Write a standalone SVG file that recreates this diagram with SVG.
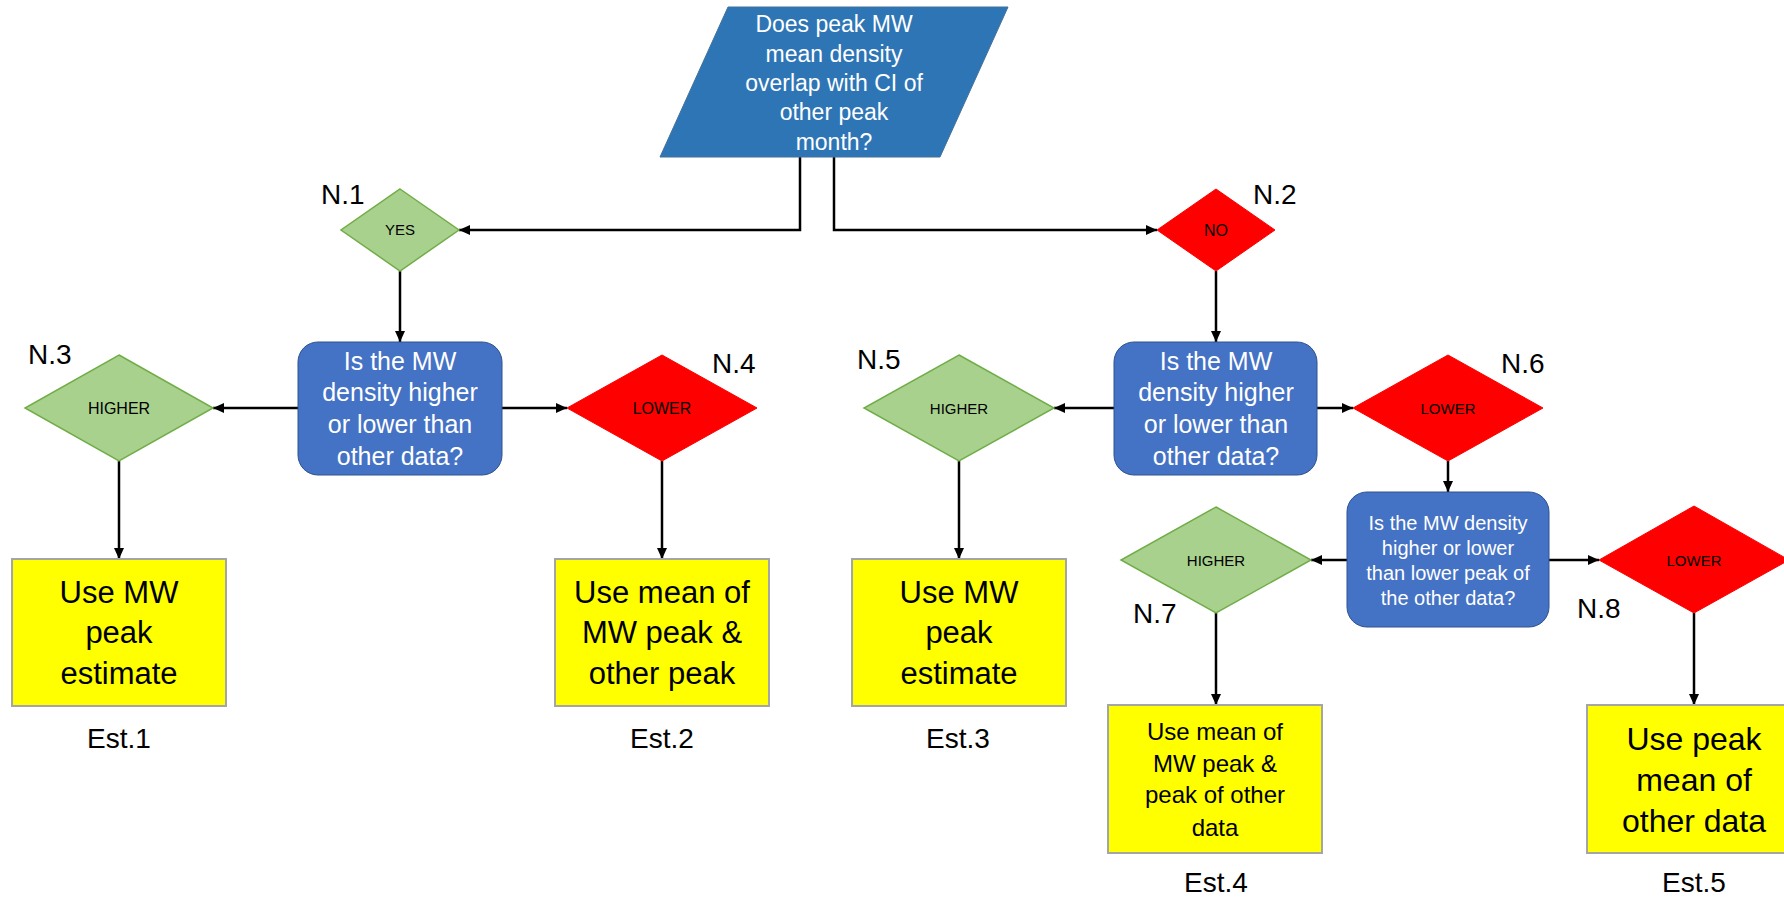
<svg xmlns="http://www.w3.org/2000/svg" width="1784" height="898" viewBox="0 0 1784 898">
<defs>
<style>
text{font-family:"Liberation Sans",Arial,sans-serif;text-anchor:middle}
.q{fill:#2E75B6;stroke:#41719C;stroke-width:1}
.box{fill:#4472C4;stroke:#2F528F;stroke-width:1}
.g{fill:#A9D18E;stroke:#70AD47;stroke-width:1.5}
.r{fill:#FF0000;stroke:#FF0000;stroke-width:1}
.y{fill:#FFFF00;stroke:#A5A5A5;stroke-width:2}
.wt{fill:#FFFFFF}
.dt{fill:#000000}
.lbl{fill:#000000;font-size:28px;text-anchor:start}
.est{fill:#000000;font-size:28px}
.c{fill:none;stroke:#000000;stroke-width:2.5}
</style>
<marker id="ah" markerUnits="userSpaceOnUse" markerWidth="12" markerHeight="12" refX="11" refY="6" orient="auto">
<path d="M0,1 L11,6 L0,11 z" fill="#000000"/>
</marker>
</defs>
<rect width="1784" height="898" fill="#FFFFFF"/>

<g id="connectors">
<path class="c" d="M800,157 V230 H459" marker-end="url(#ah)"/>
<path class="c" d="M834,157 V230 H1157" marker-end="url(#ah)"/>
<path class="c" d="M400,271 V342" marker-end="url(#ah)"/>
<path class="c" d="M298,408 H213" marker-end="url(#ah)"/>
<path class="c" d="M502,408 H567" marker-end="url(#ah)"/>
<path class="c" d="M119,461 V559" marker-end="url(#ah)"/>
<path class="c" d="M662,461 V559" marker-end="url(#ah)"/>
<path class="c" d="M1216,271 V342" marker-end="url(#ah)"/>
<path class="c" d="M1114,408 H1054" marker-end="url(#ah)"/>
<path class="c" d="M1317,408 H1353" marker-end="url(#ah)"/>
<path class="c" d="M959,461 V559" marker-end="url(#ah)"/>
<path class="c" d="M1448,461 V492" marker-end="url(#ah)"/>
<path class="c" d="M1347,560 H1311" marker-end="url(#ah)"/>
<path class="c" d="M1549,560 H1599" marker-end="url(#ah)"/>
<path class="c" d="M1216,613 V705" marker-end="url(#ah)"/>
<path class="c" d="M1694,613 V705" marker-end="url(#ah)"/>
</g>

<g id="start">
<polygon class="q" points="728,7 1008,7 940,157 660,157"/>
<text class="wt" font-size="23"><tspan x="834" y="32">Does peak MW</tspan><tspan x="834" y="62">mean density</tspan><tspan x="834" y="91">overlap with CI of</tspan><tspan x="834" y="120">other peak</tspan><tspan x="834" y="150">month?</tspan></text>
</g>

<g id="n1">
<polygon class="g" points="400,189 459,230 400,271 341,230"/>
<text class="dt" x="400" y="235" font-size="15">YES</text>
<text class="lbl" x="321" y="204">N.1</text>
</g>

<g id="n2">
<polygon class="r" points="1216,189 1275,230 1216,271 1157,230"/>
<text class="dt" x="1216" y="236" font-size="16">NO</text>
<text class="lbl" x="1253" y="204">N.2</text>
</g>

<g id="q1">
<rect class="box" x="298" y="342" width="204" height="133" rx="20"/>
<text class="wt" font-size="25"><tspan x="400" y="370">Is the MW</tspan><tspan x="400" y="401">density higher</tspan><tspan x="400" y="433">or lower than</tspan><tspan x="400" y="465">other data?</tspan></text>
</g>

<g id="q2">
<rect class="box" x="1114" y="342" width="203" height="133" rx="20"/>
<text class="wt" font-size="25"><tspan x="1216" y="370">Is the MW</tspan><tspan x="1216" y="401">density higher</tspan><tspan x="1216" y="433">or lower than</tspan><tspan x="1216" y="465">other data?</tspan></text>
</g>

<g id="n3">
<polygon class="g" points="119,355 213,408 119,461 25,408"/>
<text class="dt" x="119" y="414" font-size="16">HIGHER</text>
<text class="lbl" x="28" y="364">N.3</text>
</g>

<g id="n4">
<polygon class="r" points="662,355 757,408 662,461 567,408"/>
<text class="dt" x="662" y="414" font-size="16">LOWER</text>
<text class="lbl" x="712" y="373">N.4</text>
</g>

<g id="n5">
<polygon class="g" points="959,355 1054,408 959,461 864,408"/>
<text class="dt" x="959" y="414" font-size="15">HIGHER</text>
<text class="lbl" x="857" y="369">N.5</text>
</g>

<g id="n6">
<polygon class="r" points="1448,355 1543,408 1448,461 1353,408"/>
<text class="dt" x="1448" y="414" font-size="15">LOWER</text>
<text class="lbl" x="1501" y="373">N.6</text>
</g>

<g id="q3">
<rect class="box" x="1347" y="492" width="202" height="135" rx="20"/>
<text class="wt" font-size="20"><tspan x="1448" y="530">Is the MW density</tspan><tspan x="1448" y="555">higher or lower</tspan><tspan x="1448" y="580">than lower peak of</tspan><tspan x="1448" y="605">the other data?</tspan></text>
</g>

<g id="n7">
<polygon class="g" points="1216,507 1311,560 1216,613 1121,560"/>
<text class="dt" x="1216" y="566" font-size="15">HIGHER</text>
<text class="lbl" x="1133" y="623">N.7</text>
</g>

<g id="n8">
<polygon class="r" points="1694,506 1789,560 1694,613 1599,560"/>
<text class="dt" x="1694" y="566" font-size="15">LOWER</text>
<text class="lbl" x="1577" y="618">N.8</text>
</g>

<g id="est1">
<rect class="y" x="12" y="559" width="214" height="147"/>
<text class="dt" font-size="31"><tspan x="119" y="603">Use MW</tspan><tspan x="119" y="643">peak</tspan><tspan x="119" y="684">estimate</tspan></text>
<text class="est" x="119" y="748">Est.1</text>
</g>

<g id="est2">
<rect class="y" x="555" y="559" width="214" height="147"/>
<text class="dt" font-size="31"><tspan x="662" y="603">Use mean of</tspan><tspan x="662" y="643">MW peak &amp;</tspan><tspan x="662" y="684">other peak</tspan></text>
<text class="est" x="662" y="748">Est.2</text>
</g>

<g id="est3">
<rect class="y" x="852" y="559" width="214" height="147"/>
<text class="dt" font-size="31"><tspan x="959" y="603">Use MW</tspan><tspan x="959" y="643">peak</tspan><tspan x="959" y="684">estimate</tspan></text>
<text class="est" x="958" y="748">Est.3</text>
</g>

<g id="est4">
<rect class="y" x="1108" y="705" width="214" height="148"/>
<text class="dt" font-size="24"><tspan x="1215" y="740">Use mean of</tspan><tspan x="1215" y="772">MW peak &amp;</tspan><tspan x="1215" y="803">peak of other</tspan><tspan x="1215" y="836">data</tspan></text>
<text class="est" x="1216" y="892">Est.4</text>
</g>

<g id="est5">
<rect class="y" x="1587" y="705" width="214" height="148"/>
<text class="dt" font-size="32"><tspan x="1694" y="750">Use peak</tspan><tspan x="1694" y="791">mean of</tspan><tspan x="1694" y="832">other data</tspan></text>
<text class="est" x="1694" y="892">Est.5</text>
</g>
</svg>
